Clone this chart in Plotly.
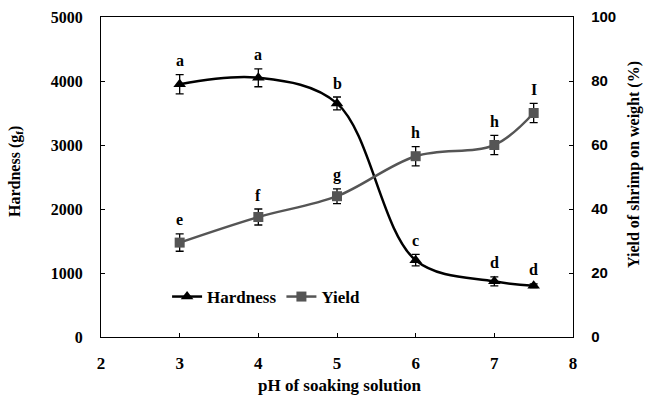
import plotly.graph_objects as go

ph = [3, 4, 5, 6, 7, 7.5]
hardness = [3950, 4050, 3650, 1200, 870, 800]
hardness_err = [150, 140, 100, 90, 70, 30]
hardness_letters = ["a", "a", "b", "c", "d", "d"]
yield_pct = [29.5, 37.5, 44, 56.5, 60, 70]
yield_err = [2.7, 2.5, 2.3, 3.0, 3.0, 3.0]
yield_letters = ["e", "f", "g", "h", "h", "I"]

serif = "Liberation Serif, Times New Roman, serif"
sans = "Liberation Sans, Arial, sans-serif"

L, R, T, B = 101, 72, 17, 64
W, H = 645, 401
pw, ph_px = W - L - R, H - T - B

fig = go.Figure()
fig.add_trace(go.Scatter(
    x=ph, y=hardness, name="Hardness", mode="lines+markers",
    line=dict(color="black", width=2.5, shape="spline", smoothing=1.0),
    marker=dict(symbol="triangle-up", size=11, color="black"),
    error_y=dict(type="data", array=hardness_err, color="black", thickness=1.3, width=4),
))
fig.add_trace(go.Scatter(
    x=ph, y=yield_pct, name="Yield", mode="lines+markers", yaxis="y2",
    line=dict(color="#555555", width=2.5, shape="spline", smoothing=1.0),
    marker=dict(symbol="square", size=10, color="#555555"),
    error_y=dict(type="data", array=yield_err, color="black", thickness=1.3, width=4),
))

bold_serif = dict(family=serif, size=16, color="black", weight="bold")
ann = []
for x, y, e, t in zip(ph, hardness, hardness_err, hardness_letters):
    ann.append(dict(x=x, y=y + e, xref="x", yref="y", text=t, showarrow=False,
                    yshift=14, font=bold_serif))
for x, y, e, t in zip(ph, yield_pct, yield_err, yield_letters):
    ann.append(dict(x=x, y=y + e, xref="x", yref="y2", text=t, showarrow=False,
                    yshift=14, font=bold_serif))

# axis titles
ann.append(dict(text="pH of soaking solution", xref="paper", yref="paper",
                x=(340 - L) / pw, y=-(385 - (H - B)) / ph_px, showarrow=False,
                xanchor="center", yanchor="middle",
                font=dict(family=serif, size=17, color="black", weight="bold")))
ann.append(dict(text="Hardness (g<sub>f</sub>)", xref="paper", yref="paper",
                x=(15 - L) / pw, y=((H - B) - 172) / ph_px, showarrow=False, textangle=-90,
                xanchor="center", yanchor="middle", font=bold_serif))
ann.append(dict(text="Yield of shrimp on weight (%)", xref="paper", yref="paper",
                x=(634 - L) / pw, y=((H - B) - 165) / ph_px, showarrow=False, textangle=-90,
                xanchor="center", yanchor="middle", font=bold_serif))

fig.update_layout(
    width=W, height=H,
    margin=dict(l=L, r=R, t=T, b=B, autoexpand=False),
    paper_bgcolor="white", plot_bgcolor="white",
    showlegend=True,
    legend=dict(orientation="h", x=0.14, y=0.125, xanchor="left", yanchor="middle",
                bgcolor="rgba(0,0,0,0)", font=dict(family=serif, size=17, color="black", weight="bold"),
                itemwidth=30, tracegroupgap=0),
    xaxis=dict(range=[2, 8], dtick=1, ticks="inside", ticklen=4, tickcolor="black",
               showline=True, linecolor="black", linewidth=1.3, mirror=True, showgrid=False, zeroline=False,
               ticklabelstandoff=10,
               tickfont=dict(family=serif, size=17, color="black", weight="bold"), automargin=False),
    yaxis=dict(range=[0, 5000], dtick=1000, ticks="inside", ticklen=4, tickcolor="black",
               showline=True, linecolor="black", linewidth=1.3, showgrid=False, zeroline=False,
               ticklabelstandoff=14,
               tickfont=dict(family=serif, size=16, color="black", weight="bold"), automargin=False),
    yaxis2=dict(range=[0, 100], dtick=20, overlaying="y", side="right", ticks="inside", ticklen=4,
                tickcolor="black", showline=True, linecolor="black", linewidth=1.3, showgrid=False,
                zeroline=False, automargin=False, ticklabelstandoff=14,
                tickfont=dict(family=sans, size=15, color="black", weight="bold")),
    annotations=ann,
)

fig.write_html("out.html", config={"displayModeBar": False},
               post_script="document.body.style.margin='0';document.body.style.overflow='hidden';")
